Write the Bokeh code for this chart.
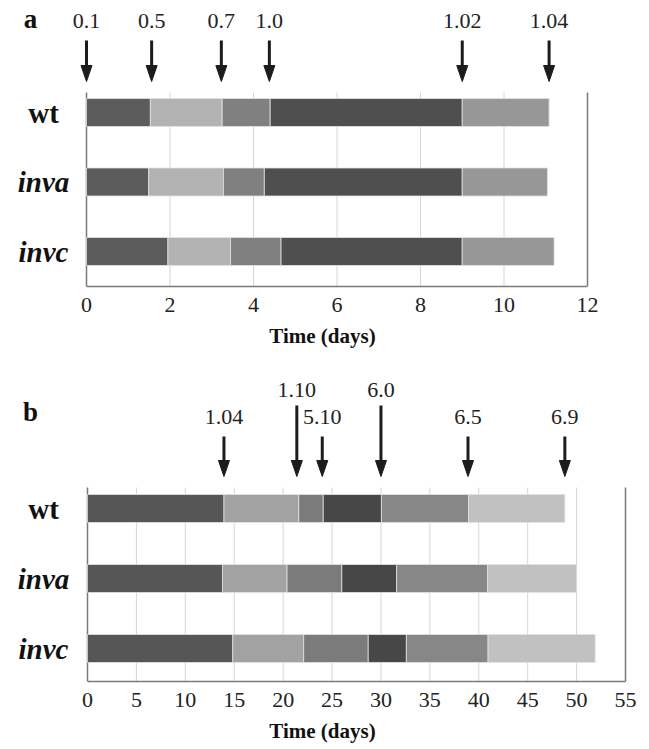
from bokeh.plotting import figure
from bokeh.models import Range1d, FixedTicker
from bokeh.layouts import column
from bokeh.embed import file_html
from bokeh.resources import INLINE
from bokeh.core.properties import value

# ---------------- data ----------------
strains = ["wt", "inva", "invc"]
strain_italic = [False, True, True]

# Panel a: stage boundaries (days) per strain
a_wt = [0, 1.53, 3.25, 4.40, 9.00, 11.08]
a_inva = [0, 1.49, 3.28, 4.26, 9.00, 11.04]
a_invc = [0, 1.95, 3.45, 4.66, 9.00, 11.20]
a_colors = ["#5c5c5c", "#b3b3b3", "#808080", "#4f4f4f", "#979797"]
a_arrow_days = [0, 1.56, 3.23, 4.38, 9.00, 11.08]
a_arrow_labels = ["0.1", "0.5", "0.7", "1.0", "1.02", "1.04"]
a_arrow_raised = [False, False, False, False, False, False]
a_ticks = [0, 2, 4, 6, 8, 10, 12]

# Panel b: stage boundaries (days) per strain
b_wt = [0, 13.95, 21.6, 24.1, 30.05, 38.95, 48.8]
b_inva = [0, 13.8, 20.4, 26.0, 31.6, 40.9, 50.0]
b_invc = [0, 14.85, 22.1, 28.7, 32.6, 40.95, 51.9]
b_colors = ["#565656", "#a2a2a2", "#7b7b7b", "#474747", "#878787", "#c1c1c1"]
b_arrow_days = [13.95, 21.4, 24.0, 30.0, 38.9, 48.8]
b_arrow_labels = ["1.04", "1.10", "5.10", "6.0", "6.5", "6.9"]
b_arrow_raised = [False, True, False, True, False, False]
b_ticks = [0, 5, 10, 15, 20, 25, 30, 35, 40, 45, 50, 55]

FAMILY = "'Liberation Serif', 'Times New Roman', Times, serif"
FONT = value(FAMILY)
FRAME_W = 644


def make_panel(letter, bounds, colors, arrow_days, arrow_labels, raised, ticks, g):
    s = g["px_per_day"]
    r = g["px_per_row"]
    top0 = g["frame_top"]
    wt_c = g["wt_center"]

    def yv(page_y):
        return 3 + (wt_c - page_y) / r

    def xv(page_x):
        return (page_x - g["zero_x"]) / s

    p = figure(frame_width=FRAME_W, frame_height=g["axis_y"] - top0,
               output_backend="svg", toolbar_location=None,
               x_range=Range1d(xv(0), xv(FRAME_W)),
               y_range=Range1d(yv(g["axis_y"]), yv(top0)),
               min_border_left=0, min_border_right=0, min_border_top=0,
               min_border_bottom=0)
    p.outline_line_color = None
    p.xgrid.visible = False
    p.ygrid.visible = False
    p.yaxis.visible = False

    bottom = yv(g["axis_y"])
    top = yv(g["plot_top"])
    # grid lines and frame lines
    inner = ticks[1:-1]
    p.segment(x0=inner, y0=[bottom] * len(inner), x1=inner,
              y1=[top] * len(inner), line_color="#d6d6d6", line_width=1)
    edges = [ticks[0], ticks[-1]]
    p.segment(x0=edges, y0=[bottom] * 2, x1=edges, y1=[top] * 2,
              line_color="#7a7a7a", line_width=1.5)

    # bars
    for i, b in enumerate(bounds):
        p.hbar(y=[3 - i] * (len(b) - 1), left=b[:-1], right=b[1:],
               height=g["bar_px"] / r, fill_color=colors[:len(b) - 1],
               line_color="#e2e2e2", line_width=0.8)

    # arrows
    hw = 5.5 / s
    hl = 16 / r
    tip = yv(g["tip_y"])
    tops = [yv(g["long_top_y"]) if q else yv(g["short_top_y"]) for q in raised]
    p.segment(x0=arrow_days, y0=tops, x1=arrow_days, y1=[tip + hl * 0.6] * len(arrow_days),
              line_color="#1c1c1c", line_width=3)
    xs = [[x - hw, x + hw, x] for x in arrow_days]
    ys = [[tip + hl, tip + hl, tip] for _ in arrow_days]
    p.patches(xs=xs, ys=ys, fill_color="#1c1c1c", line_color="#1c1c1c")
    lab_y = [yv(g["lab_high_y"]) if q else yv(g["lab_low_y"]) for q in raised]
    p.text(x=arrow_days, y=lab_y, text=arrow_labels, text_font=FONT,
           text_font_size="22px", text_align="center", text_baseline="middle",
           text_color="#222222")

    # panel letter
    p.text(x=[xv(g["letter_x"])], y=[yv(g["letter_y"])], text=[letter], text_font=FONT,
           text_font_size="27px", text_font_style="bold", text_align="center",
           text_baseline="middle", text_color="#111111")

    # strain labels
    up_y = [3 - i for i, it in enumerate(strain_italic) if not it]
    up_t = [t for t, it in zip(strains, strain_italic) if not it]
    it_y = [3 - i for i, it in enumerate(strain_italic) if it]
    it_t = [t for t, it in zip(strains, strain_italic) if it]
    cx = xv(g["cat_x"])
    p.text(x=[cx] * len(up_t), y=up_y, text=up_t, text_font=FONT,
           text_font_size="29px", text_font_style="bold", text_align="center",
           text_baseline="middle", text_color="#111111")
    p.text(x=[cx] * len(it_t), y=it_y, text=it_t, text_font=FONT,
           text_font_size="29px", text_font_style="bold italic", text_align="center",
           text_baseline="middle", text_color="#111111")

    ax = p.xaxis[0]
    ax.ticker = FixedTicker(ticks=ticks)
    ax.bounds = (ticks[0], ticks[-1])
    ax.axis_line_color = "#7a7a7a"
    ax.axis_line_width = 1.5
    ax.major_tick_out = 0
    ax.major_tick_in = 0
    ax.minor_tick_out = 0
    ax.minor_tick_in = 0
    ax.major_label_text_font = FAMILY
    ax.major_label_text_font_size = "22px"
    ax.major_label_text_color = "#222222"
    ax.major_label_standoff = 11
    ax.axis_label = "Time (days)"
    ax.axis_label_text_font = FAMILY
    ax.axis_label_text_font_size = "21px"
    ax.axis_label_text_font_style = "bold"
    ax.axis_label_text_color = "#111111"
    ax.axis_label_standoff = 9
    return p


geom_a = dict(px_per_day=(587 - 86) / 12, px_per_row=69.5, zero_x=86,
              frame_top=0, wt_center=112, axis_y=286, plot_top=92, bar_px=28,
              tip_y=81, short_top_y=40, long_top_y=40, lab_low_y=20, lab_high_y=20,
              letter_x=30, letter_y=18, cat_x=43)

geom_b = dict(px_per_day=(625 - 87) / 55, px_per_row=70, zero_x=87,
              frame_top=352, wt_center=510, axis_y=683, plot_top=489, bar_px=28,
              tip_y=478, short_top_y=438, long_top_y=407, lab_low_y=418, lab_high_y=391,
              letter_x=30, letter_y=413, cat_x=43)

pa = make_panel("a", [a_wt, a_inva, a_invc], a_colors, a_arrow_days, a_arrow_labels,
                a_arrow_raised, a_ticks, geom_a)
pb = make_panel("b", [b_wt, b_inva, b_invc], b_colors, b_arrow_days, b_arrow_labels,
                b_arrow_raised, b_ticks, geom_b)

layout = column(pa, pb)
open("out.html", "w").write(file_html(layout, INLINE))
